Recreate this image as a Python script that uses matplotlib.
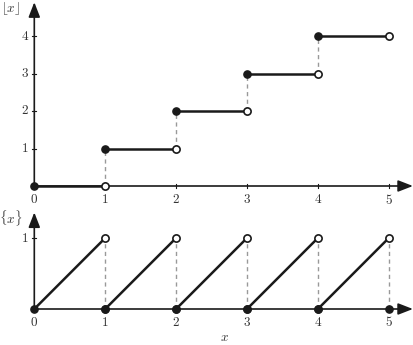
import matplotlib
matplotlib.use("Agg")
import matplotlib.pyplot as plt

plt.rcParams["mathtext.fontset"] = "cm"
plt.rcParams["font.family"] = "serif"

# data
x_ticks = [0, 1, 2, 3, 4, 5]
floor_y_ticks = [1, 2, 3, 4]
frac_y_ticks = [1]
seg_start = [0, 1, 2, 3, 4]
seg_end = [1, 2, 3, 4, 5]
floor_vals = [0, 1, 2, 3, 4]
frac_lo = [0, 0, 0, 0, 0]
frac_hi = [1, 1, 1, 1, 1]

W, H = 414, 345
fig = plt.figure(figsize=(W / 100, H / 100), dpi=100)

XLIM = (-34.3 / 70.9, (414 - 34.3) / 70.9)
ax1 = fig.add_axes([0, 1 - 200 / H, 1, 200 / H])
ax2 = fig.add_axes([0, 0, 1, 1 - 200 / H])
ax1.set_xlim(*XLIM)
ax1.set_ylim(-14 / 37.5, 186 / 37.5)
ax2.set_xlim(*XLIM)
ax2.set_ylim(-36 / 71, 109 / 71)
for ax in (ax1, ax2):
    ax.axis("off")

DARK = "#1a1a1a"
arrow = dict(arrowstyle="-|>,head_length=0.9,head_width=0.35", lw=1.2,
             color=DARK, shrinkA=0, shrinkB=0)
fs = 9.5


def axes_frame(ax, xtip, ytip, yticks, ytick_h, xlab_y, xtk_h):
    ax.annotate("", xy=(xtip, 0), xytext=(0, 0), arrowprops=arrow, zorder=2)
    ax.annotate("", xy=(0, ytip), xytext=(0, 0), arrowprops=arrow, zorder=2)
    for t in x_ticks:
        ax.plot([t, t], [-xtk_h, xtk_h], color=DARK, lw=0.8, zorder=2)
        ax.text(t, xlab_y, "$%d$" % t, ha="center", va="center", fontsize=fs,
                color="#333333")
    for t in yticks:
        ax.plot([-0.03, 0.03], [t, t], color=DARK, lw=0.8, zorder=2)
        ax.text(-0.13, t, "$%d$" % t, ha="center", va="center", fontsize=fs,
                color="#333333")


axes_frame(ax1, 5.34, 4.9, floor_y_ticks, 0.05, -0.36, 0.05)
axes_frame(ax2, 5.34, 1.36, frac_y_ticks, 0.03, -0.19, 0.03)

ax1.text(-0.34, 4.73, r"$\lfloor x\rfloor$", ha="center", va="center", fontsize=fs,
         color="#333333")
ax2.text(-0.33, 1.28, r"$\{x\}$", ha="center", va="center", fontsize=fs,
         color="#333333")
ax2.text(2.68, -0.40, r"$x$", ha="center", va="center", fontsize=fs,
         color="#333333")

dash = dict(color="#999999", lw=1.0, ls=(0, (3, 2.5)), zorder=1)
ms = 5.2
filled = dict(marker="o", ms=ms, mfc=DARK, mec=DARK, ls="none", zorder=4)
hollow = dict(marker="o", ms=ms, mfc="white", mec=DARK, mew=1.2, ls="none", zorder=4)

# floor function
for a, b, v in zip(seg_start, seg_end, floor_vals):
    ax1.plot([a, b], [v, v], color=DARK, lw=1.8, zorder=3)
    ax1.plot([a], [v], **filled)
    ax1.plot([b], [v], **hollow)
    if v > 0:
        ax1.plot([a, a], [v - 1, v], **dash)

# fractional part
for a, b, lo, hi in zip(seg_start, seg_end, frac_lo, frac_hi):
    ax2.plot([a, b], [lo, hi], color=DARK, lw=1.8, zorder=3)
    ax2.plot([a], [lo], **filled)
    ax2.plot([b], [lo], **filled)
    ax2.plot([b], [hi], **hollow)
    ax2.plot([b, b], [lo, hi], **dash)

fig.savefig("out.png", dpi=100)
